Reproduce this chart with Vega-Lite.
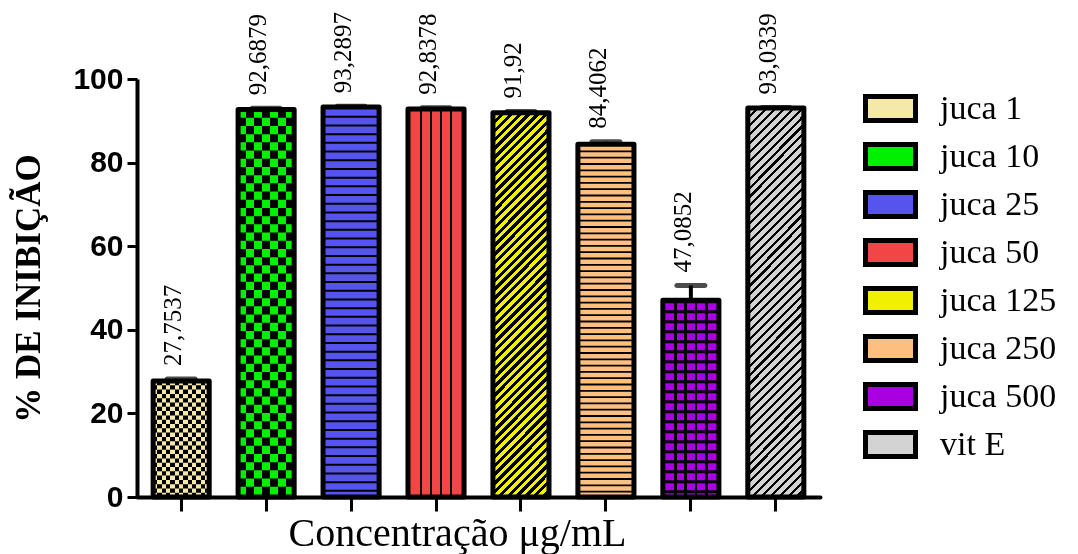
{
  "$schema": "https://vega.github.io/schema/vega-lite/v6.json",
  "width": 683,
  "height": 418,
  "autosize": "none",
  "padding": {"left": 137, "top": 79, "right": 258, "bottom": 57},
  "background": "white",
  "config": {"view": {"stroke": null}, "font": "Liberation Serif"},
  "data": {
    "values": [
      {"grupo": "juca 1", "media": 27.7537, "sup": 28.2, "rotulo": "27,7537"},
      {"grupo": "juca 10", "media": 92.6879, "sup": 93.0, "rotulo": "92,6879"},
      {"grupo": "juca 25", "media": 93.2897, "sup": 93.5, "rotulo": "93,2897"},
      {"grupo": "juca 50", "media": 92.8378, "sup": 93.1, "rotulo": "92,8378"},
      {"grupo": "juca 125", "media": 91.92, "sup": 92.2, "rotulo": "91,92"},
      {"grupo": "juca 250", "media": 84.4062, "sup": 85.0, "rotulo": "84,4062"},
      {"grupo": "juca 500", "media": 47.0852, "sup": 50.6, "rotulo": "47,0852"},
      {"grupo": "vit E", "media": 93.0339, "sup": 93.2, "rotulo": "93,0339"}
    ]
  },
  "encoding": {
    "x": {
      "field": "grupo",
      "type": "nominal",
      "sort": null,
      "scale": {"paddingInner": 0.34, "paddingOuter": 0.19},
      "axis": {
        "labels": false,
        "title": "Concentração μg/mL",
        "titleFont": "Liberation Serif",
        "titleFontSize": 40,
        "titleFontWeight": "normal",
        "titleColor": "black",
        "titleX": 320,
        "titleY": 48,
        "titleBaseline": "alphabetic",
        "domainColor": "black",
        "domainWidth": 4,
        "domainCap": "round",
        "tickColor": "black",
        "tickWidth": 3,
        "tickSize": 14
      }
    }
  },
  "layer": [
    {
      "mark": {"type": "rule", "color": "black", "strokeWidth": 4},
      "encoding": {
        "y": {"field": "media", "type": "quantitative"},
        "y2": {"field": "sup"}
      }
    },
    {
      "mark": {"type": "tick", "color": "black", "size": 33, "thickness": 5, "cornerRadius": 2.5, "orient": "horizontal"},
      "encoding": {"y": {"field": "sup", "type": "quantitative"}}
    },
    {
      "mark": {"type": "bar", "strokeWidth": 0},
      "encoding": {
        "y": {
          "field": "media",
          "type": "quantitative",
          "scale": {"domain": [0, 100], "nice": false},
          "axis": {
            "values": [0, 20, 40, 60, 80, 100],
            "grid": false,
            "title": "% DE INIBIÇÃO",
            "titleFont": "Liberation Serif",
            "titleFontSize": 35,
            "titleFontWeight": "bold",
            "titleColor": "black",
            "titlePadding": 26,
            "labelFont": "Liberation Sans",
            "labelFontSize": 30,
            "labelFontWeight": "bold",
            "labelColor": "black",
            "labelPadding": 4,
            "domainColor": "black",
            "domainWidth": 4,
            "tickColor": "black",
            "tickWidth": 3,
            "tickSize": 10
          }
        },
        "color": {
          "field": "grupo",
          "type": "nominal",
          "sort": null,
          "scale": {
            "domain": ["juca 1", "juca 10", "juca 25", "juca 50", "juca 125", "juca 250", "juca 500", "vit E"],
            "range": ["#F6E8A8", "#00F000", "#5555EE", "#F24545", "#F0F000", "#FFBF7F", "#A800E0", "#D3D3D3"]
          },
          "legend": {
            "title": null,
            "orient": "none",
            "legendX": 731,
            "legendY": 7,
            "padding": 0,
            "symbolType": "M-1.25,-0.6L1.25,-0.6L1.25,0.6L-1.25,0.6Z",
            "symbolSize": 1600,
            "symbolStrokeColor": "black",
            "symbolStrokeWidth": 5,
            "symbolOpacity": 1,
            "labelFont": "Liberation Serif",
            "labelFontSize": 34,
            "labelColor": "black",
            "labelOffset": 27,
            "rowPadding": 3,
            "labelLimit": 300
          }
        }
      }
    },
    {
      "transform": [{"filter": "datum.grupo === 'juca 1'"}],
      "mark": {"type": "rule", "color": "black", "strokeWidth": 56, "strokeCap": "butt", "strokeDash": [4.3, 4.3]},
      "encoding": {"y": {"field": "media", "type": "quantitative"}, "y2": {"datum": 0}}
    },
    {
      "transform": [{"filter": "datum.grupo === 'juca 1'"}],
      "mark": {"type": "bar", "strokeWidth": 0, "blend": "difference", "fill": {"gradient": "linear", "x1": 0, "y1": 0, "x2": 1, "y2": 0, "stops": [
        {"offset": 0, "color": "#F6E8A8"}, {"offset": 0.0769, "color": "#F6E8A8"}, {"offset": 0.0769, "color": "#000"}, {"offset": 0.1538, "color": "#000"},
        {"offset": 0.1538, "color": "#F6E8A8"}, {"offset": 0.2308, "color": "#F6E8A8"}, {"offset": 0.2308, "color": "#000"}, {"offset": 0.3077, "color": "#000"},
        {"offset": 0.3077, "color": "#F6E8A8"}, {"offset": 0.3846, "color": "#F6E8A8"}, {"offset": 0.3846, "color": "#000"}, {"offset": 0.4615, "color": "#000"},
        {"offset": 0.4615, "color": "#F6E8A8"}, {"offset": 0.5385, "color": "#F6E8A8"}, {"offset": 0.5385, "color": "#000"}, {"offset": 0.6154, "color": "#000"},
        {"offset": 0.6154, "color": "#F6E8A8"}, {"offset": 0.6923, "color": "#F6E8A8"}, {"offset": 0.6923, "color": "#000"}, {"offset": 0.7692, "color": "#000"},
        {"offset": 0.7692, "color": "#F6E8A8"}, {"offset": 0.8462, "color": "#F6E8A8"}, {"offset": 0.8462, "color": "#000"}, {"offset": 0.9231, "color": "#000"},
        {"offset": 0.9231, "color": "#F6E8A8"}, {"offset": 1, "color": "#F6E8A8"}
      ]}},
      "encoding": {"y": {"field": "media", "type": "quantitative"}}
    },
    {
      "transform": [{"filter": "datum.grupo === 'juca 10'"}],
      "mark": {"type": "rule", "color": "black", "strokeWidth": 56, "strokeCap": "butt", "strokeDash": [8.2, 8.2]},
      "encoding": {"y": {"field": "media", "type": "quantitative"}, "y2": {"datum": 0}}
    },
    {
      "transform": [{"filter": "datum.grupo === 'juca 10'"}],
      "mark": {"type": "bar", "strokeWidth": 0, "blend": "difference", "fill": {"gradient": "linear", "x1": 0, "y1": 0, "x2": 1, "y2": 0, "stops": [
        {"offset": 0, "color": "#00F000"}, {"offset": 0.1429, "color": "#00F000"}, {"offset": 0.1429, "color": "#000"}, {"offset": 0.2857, "color": "#000"},
        {"offset": 0.2857, "color": "#00F000"}, {"offset": 0.4286, "color": "#00F000"}, {"offset": 0.4286, "color": "#000"}, {"offset": 0.5714, "color": "#000"},
        {"offset": 0.5714, "color": "#00F000"}, {"offset": 0.7143, "color": "#00F000"}, {"offset": 0.7143, "color": "#000"}, {"offset": 0.8571, "color": "#000"},
        {"offset": 0.8571, "color": "#00F000"}, {"offset": 1, "color": "#00F000"}
      ]}},
      "encoding": {"y": {"field": "media", "type": "quantitative"}}
    },
    {
      "transform": [{"filter": "datum.grupo === 'juca 25'"}],
      "mark": {"type": "rule", "color": "black", "strokeWidth": 56, "strokeCap": "butt", "strokeDash": [2, 6.7]},
      "encoding": {"y": {"field": "media", "type": "quantitative"}, "y2": {"datum": 0}}
    },
    {
      "transform": [{"filter": "datum.grupo === 'juca 50'"}],
      "mark": {"type": "bar", "strokeWidth": 0, "fill": {"gradient": "linear", "x1": 0, "y1": 0, "x2": 1, "y2": 0, "stops": [
        {"offset": 0, "color": "transparent"}, {"offset": 0.208, "color": "transparent"}, {"offset": 0.208, "color": "#000"}, {"offset": 0.244, "color": "#000"}, {"offset": 0.244, "color": "transparent"},
        {"offset": 0.391, "color": "transparent"}, {"offset": 0.391, "color": "#000"}, {"offset": 0.427, "color": "#000"}, {"offset": 0.427, "color": "transparent"},
        {"offset": 0.573, "color": "transparent"}, {"offset": 0.573, "color": "#000"}, {"offset": 0.609, "color": "#000"}, {"offset": 0.609, "color": "transparent"},
        {"offset": 0.756, "color": "transparent"}, {"offset": 0.756, "color": "#000"}, {"offset": 0.792, "color": "#000"}, {"offset": 0.792, "color": "transparent"},
        {"offset": 1, "color": "transparent"}
      ]}},
      "encoding": {"y": {"field": "media", "type": "quantitative"}}
    },
    {
      "transform": [{"filter": "datum.grupo === 'juca 125'"}],
      "mark": {"type": "bar", "strokeWidth": 0, "fill": {"gradient": "linear", "x1": 0, "y1": 0, "x2": 0.1644, "y2": 1.1224, "stops": [
        {"offset": 0, "color": "#000"}, {"offset": 0.01, "color": "#000"}, {"offset": 0.01, "color": "transparent"}, {"offset": 0.02, "color": "transparent"},
        {"offset": 0.02, "color": "#000"}, {"offset": 0.03, "color": "#000"}, {"offset": 0.03, "color": "transparent"}, {"offset": 0.04, "color": "transparent"},
        {"offset": 0.04, "color": "#000"}, {"offset": 0.05, "color": "#000"}, {"offset": 0.05, "color": "transparent"}, {"offset": 0.06, "color": "transparent"},
        {"offset": 0.06, "color": "#000"}, {"offset": 0.07, "color": "#000"}, {"offset": 0.07, "color": "transparent"}, {"offset": 0.08, "color": "transparent"},
        {"offset": 0.08, "color": "#000"}, {"offset": 0.09, "color": "#000"}, {"offset": 0.09, "color": "transparent"}, {"offset": 0.10, "color": "transparent"},
        {"offset": 0.10, "color": "#000"}, {"offset": 0.11, "color": "#000"}, {"offset": 0.11, "color": "transparent"}, {"offset": 0.12, "color": "transparent"},
        {"offset": 0.12, "color": "#000"}, {"offset": 0.13, "color": "#000"}, {"offset": 0.13, "color": "transparent"}, {"offset": 0.14, "color": "transparent"},
        {"offset": 0.14, "color": "#000"}, {"offset": 0.15, "color": "#000"}, {"offset": 0.15, "color": "transparent"}, {"offset": 0.16, "color": "transparent"},
        {"offset": 0.16, "color": "#000"}, {"offset": 0.17, "color": "#000"}, {"offset": 0.17, "color": "transparent"}, {"offset": 0.18, "color": "transparent"},
        {"offset": 0.18, "color": "#000"}, {"offset": 0.19, "color": "#000"}, {"offset": 0.19, "color": "transparent"}, {"offset": 0.20, "color": "transparent"},
        {"offset": 0.20, "color": "#000"}, {"offset": 0.21, "color": "#000"}, {"offset": 0.21, "color": "transparent"}, {"offset": 0.22, "color": "transparent"},
        {"offset": 0.22, "color": "#000"}, {"offset": 0.23, "color": "#000"}, {"offset": 0.23, "color": "transparent"}, {"offset": 0.24, "color": "transparent"},
        {"offset": 0.24, "color": "#000"}, {"offset": 0.25, "color": "#000"}, {"offset": 0.25, "color": "transparent"}, {"offset": 0.26, "color": "transparent"},
        {"offset": 0.26, "color": "#000"}, {"offset": 0.27, "color": "#000"}, {"offset": 0.27, "color": "transparent"}, {"offset": 0.28, "color": "transparent"},
        {"offset": 0.28, "color": "#000"}, {"offset": 0.29, "color": "#000"}, {"offset": 0.29, "color": "transparent"}, {"offset": 0.30, "color": "transparent"},
        {"offset": 0.30, "color": "#000"}, {"offset": 0.31, "color": "#000"}, {"offset": 0.31, "color": "transparent"}, {"offset": 0.32, "color": "transparent"},
        {"offset": 0.32, "color": "#000"}, {"offset": 0.33, "color": "#000"}, {"offset": 0.33, "color": "transparent"}, {"offset": 0.34, "color": "transparent"},
        {"offset": 0.34, "color": "#000"}, {"offset": 0.35, "color": "#000"}, {"offset": 0.35, "color": "transparent"}, {"offset": 0.36, "color": "transparent"},
        {"offset": 0.36, "color": "#000"}, {"offset": 0.37, "color": "#000"}, {"offset": 0.37, "color": "transparent"}, {"offset": 0.38, "color": "transparent"},
        {"offset": 0.38, "color": "#000"}, {"offset": 0.39, "color": "#000"}, {"offset": 0.39, "color": "transparent"}, {"offset": 0.40, "color": "transparent"},
        {"offset": 0.40, "color": "#000"}, {"offset": 0.41, "color": "#000"}, {"offset": 0.41, "color": "transparent"}, {"offset": 0.42, "color": "transparent"},
        {"offset": 0.42, "color": "#000"}, {"offset": 0.43, "color": "#000"}, {"offset": 0.43, "color": "transparent"}, {"offset": 0.44, "color": "transparent"},
        {"offset": 0.44, "color": "#000"}, {"offset": 0.45, "color": "#000"}, {"offset": 0.45, "color": "transparent"}, {"offset": 0.46, "color": "transparent"},
        {"offset": 0.46, "color": "#000"}, {"offset": 0.47, "color": "#000"}, {"offset": 0.47, "color": "transparent"}, {"offset": 0.48, "color": "transparent"},
        {"offset": 0.48, "color": "#000"}, {"offset": 0.49, "color": "#000"}, {"offset": 0.49, "color": "transparent"}, {"offset": 0.50, "color": "transparent"},
        {"offset": 0.50, "color": "#000"}, {"offset": 0.51, "color": "#000"}, {"offset": 0.51, "color": "transparent"}, {"offset": 0.52, "color": "transparent"},
        {"offset": 0.52, "color": "#000"}, {"offset": 0.53, "color": "#000"}, {"offset": 0.53, "color": "transparent"}, {"offset": 0.54, "color": "transparent"},
        {"offset": 0.54, "color": "#000"}, {"offset": 0.55, "color": "#000"}, {"offset": 0.55, "color": "transparent"}, {"offset": 0.56, "color": "transparent"},
        {"offset": 0.56, "color": "#000"}, {"offset": 0.57, "color": "#000"}, {"offset": 0.57, "color": "transparent"}, {"offset": 0.58, "color": "transparent"},
        {"offset": 0.58, "color": "#000"}, {"offset": 0.59, "color": "#000"}, {"offset": 0.59, "color": "transparent"}, {"offset": 0.60, "color": "transparent"},
        {"offset": 0.60, "color": "#000"}, {"offset": 0.61, "color": "#000"}, {"offset": 0.61, "color": "transparent"}, {"offset": 0.62, "color": "transparent"},
        {"offset": 0.62, "color": "#000"}, {"offset": 0.63, "color": "#000"}, {"offset": 0.63, "color": "transparent"}, {"offset": 0.64, "color": "transparent"},
        {"offset": 0.64, "color": "#000"}, {"offset": 0.65, "color": "#000"}, {"offset": 0.65, "color": "transparent"}, {"offset": 0.66, "color": "transparent"},
        {"offset": 0.66, "color": "#000"}, {"offset": 0.67, "color": "#000"}, {"offset": 0.67, "color": "transparent"}, {"offset": 0.68, "color": "transparent"},
        {"offset": 0.68, "color": "#000"}, {"offset": 0.69, "color": "#000"}, {"offset": 0.69, "color": "transparent"}, {"offset": 0.70, "color": "transparent"},
        {"offset": 0.70, "color": "#000"}, {"offset": 0.71, "color": "#000"}, {"offset": 0.71, "color": "transparent"}, {"offset": 0.72, "color": "transparent"},
        {"offset": 0.72, "color": "#000"}, {"offset": 0.73, "color": "#000"}, {"offset": 0.73, "color": "transparent"}, {"offset": 0.74, "color": "transparent"},
        {"offset": 0.74, "color": "#000"}, {"offset": 0.75, "color": "#000"}, {"offset": 0.75, "color": "transparent"}, {"offset": 0.76, "color": "transparent"},
        {"offset": 0.76, "color": "#000"}, {"offset": 0.77, "color": "#000"}, {"offset": 0.77, "color": "transparent"}, {"offset": 0.78, "color": "transparent"},
        {"offset": 0.78, "color": "#000"}, {"offset": 0.79, "color": "#000"}, {"offset": 0.79, "color": "transparent"}, {"offset": 0.80, "color": "transparent"},
        {"offset": 0.80, "color": "#000"}, {"offset": 0.81, "color": "#000"}, {"offset": 0.81, "color": "transparent"}, {"offset": 0.82, "color": "transparent"},
        {"offset": 0.82, "color": "#000"}, {"offset": 0.83, "color": "#000"}, {"offset": 0.83, "color": "transparent"}, {"offset": 0.84, "color": "transparent"},
        {"offset": 0.84, "color": "#000"}, {"offset": 0.85, "color": "#000"}, {"offset": 0.85, "color": "transparent"}, {"offset": 0.86, "color": "transparent"},
        {"offset": 0.86, "color": "#000"}, {"offset": 0.87, "color": "#000"}, {"offset": 0.87, "color": "transparent"}, {"offset": 0.88, "color": "transparent"},
        {"offset": 0.88, "color": "#000"}, {"offset": 0.89, "color": "#000"}, {"offset": 0.89, "color": "transparent"}, {"offset": 0.90, "color": "transparent"},
        {"offset": 0.90, "color": "#000"}, {"offset": 0.91, "color": "#000"}, {"offset": 0.91, "color": "transparent"}, {"offset": 0.92, "color": "transparent"},
        {"offset": 0.92, "color": "#000"}, {"offset": 0.93, "color": "#000"}, {"offset": 0.93, "color": "transparent"}, {"offset": 0.94, "color": "transparent"},
        {"offset": 0.94, "color": "#000"}, {"offset": 0.95, "color": "#000"}, {"offset": 0.95, "color": "transparent"}, {"offset": 0.96, "color": "transparent"},
        {"offset": 0.96, "color": "#000"}, {"offset": 0.97, "color": "#000"}, {"offset": 0.97, "color": "transparent"}, {"offset": 0.98, "color": "transparent"},
        {"offset": 0.98, "color": "#000"}, {"offset": 0.99, "color": "#000"}, {"offset": 0.99, "color": "transparent"}, {"offset": 1, "color": "transparent"}
      ]}},
      "encoding": {"y": {"field": "media", "type": "quantitative"}}
    },
    {
      "transform": [{"filter": "datum.grupo === 'juca 250'"}],
      "mark": {"type": "rule", "color": "black", "strokeWidth": 56, "strokeCap": "butt", "strokeDash": [1.8, 4.5]},
      "encoding": {"y": {"field": "media", "type": "quantitative"}, "y2": {"datum": 0}}
    },
    {
      "transform": [{"filter": "datum.grupo === 'juca 500'"}],
      "mark": {"type": "rule", "color": "black", "strokeWidth": 56, "strokeCap": "butt", "strokeDash": [3, 7]},
      "encoding": {"y": {"field": "media", "type": "quantitative"}, "y2": {"datum": 0}}
    },
    {
      "transform": [{"filter": "datum.grupo === 'juca 500'"}],
      "mark": {"type": "bar", "strokeWidth": 0, "fill": {"gradient": "linear", "x1": 0, "y1": 0, "x2": 1, "y2": 0, "stops": [
        {"offset": 0, "color": "transparent"}, {"offset": 0.201, "color": "transparent"}, {"offset": 0.201, "color": "#000"}, {"offset": 0.251, "color": "#000"}, {"offset": 0.251, "color": "transparent"},
        {"offset": 0.384, "color": "transparent"}, {"offset": 0.384, "color": "#000"}, {"offset": 0.434, "color": "#000"}, {"offset": 0.434, "color": "transparent"},
        {"offset": 0.566, "color": "transparent"}, {"offset": 0.566, "color": "#000"}, {"offset": 0.616, "color": "#000"}, {"offset": 0.616, "color": "transparent"},
        {"offset": 0.749, "color": "transparent"}, {"offset": 0.749, "color": "#000"}, {"offset": 0.799, "color": "#000"}, {"offset": 0.799, "color": "transparent"},
        {"offset": 1, "color": "transparent"}
      ]}},
      "encoding": {"y": {"field": "media", "type": "quantitative"}}
    },
    {
      "transform": [{"filter": "datum.grupo === 'vit E'"}],
      "mark": {"type": "bar", "strokeWidth": 0, "fill": {"gradient": "linear", "x1": 0, "y1": 0, "x2": 0.1624, "y2": 1.1213, "stops": [
        {"offset": 0, "color": "#000"}, {"offset": 0.007, "color": "#000"}, {"offset": 0.007, "color": "transparent"}, {"offset": 0.02, "color": "transparent"},
        {"offset": 0.02, "color": "#000"}, {"offset": 0.027, "color": "#000"}, {"offset": 0.027, "color": "transparent"}, {"offset": 0.04, "color": "transparent"},
        {"offset": 0.04, "color": "#000"}, {"offset": 0.047, "color": "#000"}, {"offset": 0.047, "color": "transparent"}, {"offset": 0.06, "color": "transparent"},
        {"offset": 0.06, "color": "#000"}, {"offset": 0.067, "color": "#000"}, {"offset": 0.067, "color": "transparent"}, {"offset": 0.08, "color": "transparent"},
        {"offset": 0.08, "color": "#000"}, {"offset": 0.087, "color": "#000"}, {"offset": 0.087, "color": "transparent"}, {"offset": 0.10, "color": "transparent"},
        {"offset": 0.10, "color": "#000"}, {"offset": 0.107, "color": "#000"}, {"offset": 0.107, "color": "transparent"}, {"offset": 0.12, "color": "transparent"},
        {"offset": 0.12, "color": "#000"}, {"offset": 0.127, "color": "#000"}, {"offset": 0.127, "color": "transparent"}, {"offset": 0.14, "color": "transparent"},
        {"offset": 0.14, "color": "#000"}, {"offset": 0.147, "color": "#000"}, {"offset": 0.147, "color": "transparent"}, {"offset": 0.16, "color": "transparent"},
        {"offset": 0.16, "color": "#000"}, {"offset": 0.167, "color": "#000"}, {"offset": 0.167, "color": "transparent"}, {"offset": 0.18, "color": "transparent"},
        {"offset": 0.18, "color": "#000"}, {"offset": 0.187, "color": "#000"}, {"offset": 0.187, "color": "transparent"}, {"offset": 0.20, "color": "transparent"},
        {"offset": 0.20, "color": "#000"}, {"offset": 0.207, "color": "#000"}, {"offset": 0.207, "color": "transparent"}, {"offset": 0.22, "color": "transparent"},
        {"offset": 0.22, "color": "#000"}, {"offset": 0.227, "color": "#000"}, {"offset": 0.227, "color": "transparent"}, {"offset": 0.24, "color": "transparent"},
        {"offset": 0.24, "color": "#000"}, {"offset": 0.247, "color": "#000"}, {"offset": 0.247, "color": "transparent"}, {"offset": 0.26, "color": "transparent"},
        {"offset": 0.26, "color": "#000"}, {"offset": 0.267, "color": "#000"}, {"offset": 0.267, "color": "transparent"}, {"offset": 0.28, "color": "transparent"},
        {"offset": 0.28, "color": "#000"}, {"offset": 0.287, "color": "#000"}, {"offset": 0.287, "color": "transparent"}, {"offset": 0.30, "color": "transparent"},
        {"offset": 0.30, "color": "#000"}, {"offset": 0.307, "color": "#000"}, {"offset": 0.307, "color": "transparent"}, {"offset": 0.32, "color": "transparent"},
        {"offset": 0.32, "color": "#000"}, {"offset": 0.327, "color": "#000"}, {"offset": 0.327, "color": "transparent"}, {"offset": 0.34, "color": "transparent"},
        {"offset": 0.34, "color": "#000"}, {"offset": 0.347, "color": "#000"}, {"offset": 0.347, "color": "transparent"}, {"offset": 0.36, "color": "transparent"},
        {"offset": 0.36, "color": "#000"}, {"offset": 0.367, "color": "#000"}, {"offset": 0.367, "color": "transparent"}, {"offset": 0.38, "color": "transparent"},
        {"offset": 0.38, "color": "#000"}, {"offset": 0.387, "color": "#000"}, {"offset": 0.387, "color": "transparent"}, {"offset": 0.40, "color": "transparent"},
        {"offset": 0.40, "color": "#000"}, {"offset": 0.407, "color": "#000"}, {"offset": 0.407, "color": "transparent"}, {"offset": 0.42, "color": "transparent"},
        {"offset": 0.42, "color": "#000"}, {"offset": 0.427, "color": "#000"}, {"offset": 0.427, "color": "transparent"}, {"offset": 0.44, "color": "transparent"},
        {"offset": 0.44, "color": "#000"}, {"offset": 0.447, "color": "#000"}, {"offset": 0.447, "color": "transparent"}, {"offset": 0.46, "color": "transparent"},
        {"offset": 0.46, "color": "#000"}, {"offset": 0.467, "color": "#000"}, {"offset": 0.467, "color": "transparent"}, {"offset": 0.48, "color": "transparent"},
        {"offset": 0.48, "color": "#000"}, {"offset": 0.487, "color": "#000"}, {"offset": 0.487, "color": "transparent"}, {"offset": 0.50, "color": "transparent"},
        {"offset": 0.50, "color": "#000"}, {"offset": 0.507, "color": "#000"}, {"offset": 0.507, "color": "transparent"}, {"offset": 0.52, "color": "transparent"},
        {"offset": 0.52, "color": "#000"}, {"offset": 0.527, "color": "#000"}, {"offset": 0.527, "color": "transparent"}, {"offset": 0.54, "color": "transparent"},
        {"offset": 0.54, "color": "#000"}, {"offset": 0.547, "color": "#000"}, {"offset": 0.547, "color": "transparent"}, {"offset": 0.56, "color": "transparent"},
        {"offset": 0.56, "color": "#000"}, {"offset": 0.567, "color": "#000"}, {"offset": 0.567, "color": "transparent"}, {"offset": 0.58, "color": "transparent"},
        {"offset": 0.58, "color": "#000"}, {"offset": 0.587, "color": "#000"}, {"offset": 0.587, "color": "transparent"}, {"offset": 0.60, "color": "transparent"},
        {"offset": 0.60, "color": "#000"}, {"offset": 0.607, "color": "#000"}, {"offset": 0.607, "color": "transparent"}, {"offset": 0.62, "color": "transparent"},
        {"offset": 0.62, "color": "#000"}, {"offset": 0.627, "color": "#000"}, {"offset": 0.627, "color": "transparent"}, {"offset": 0.64, "color": "transparent"},
        {"offset": 0.64, "color": "#000"}, {"offset": 0.647, "color": "#000"}, {"offset": 0.647, "color": "transparent"}, {"offset": 0.66, "color": "transparent"},
        {"offset": 0.66, "color": "#000"}, {"offset": 0.667, "color": "#000"}, {"offset": 0.667, "color": "transparent"}, {"offset": 0.68, "color": "transparent"},
        {"offset": 0.68, "color": "#000"}, {"offset": 0.687, "color": "#000"}, {"offset": 0.687, "color": "transparent"}, {"offset": 0.70, "color": "transparent"},
        {"offset": 0.70, "color": "#000"}, {"offset": 0.707, "color": "#000"}, {"offset": 0.707, "color": "transparent"}, {"offset": 0.72, "color": "transparent"},
        {"offset": 0.72, "color": "#000"}, {"offset": 0.727, "color": "#000"}, {"offset": 0.727, "color": "transparent"}, {"offset": 0.74, "color": "transparent"},
        {"offset": 0.74, "color": "#000"}, {"offset": 0.747, "color": "#000"}, {"offset": 0.747, "color": "transparent"}, {"offset": 0.76, "color": "transparent"},
        {"offset": 0.76, "color": "#000"}, {"offset": 0.767, "color": "#000"}, {"offset": 0.767, "color": "transparent"}, {"offset": 0.78, "color": "transparent"},
        {"offset": 0.78, "color": "#000"}, {"offset": 0.787, "color": "#000"}, {"offset": 0.787, "color": "transparent"}, {"offset": 0.80, "color": "transparent"},
        {"offset": 0.80, "color": "#000"}, {"offset": 0.807, "color": "#000"}, {"offset": 0.807, "color": "transparent"}, {"offset": 0.82, "color": "transparent"},
        {"offset": 0.82, "color": "#000"}, {"offset": 0.827, "color": "#000"}, {"offset": 0.827, "color": "transparent"}, {"offset": 0.84, "color": "transparent"},
        {"offset": 0.84, "color": "#000"}, {"offset": 0.847, "color": "#000"}, {"offset": 0.847, "color": "transparent"}, {"offset": 0.86, "color": "transparent"},
        {"offset": 0.86, "color": "#000"}, {"offset": 0.867, "color": "#000"}, {"offset": 0.867, "color": "transparent"}, {"offset": 0.88, "color": "transparent"},
        {"offset": 0.88, "color": "#000"}, {"offset": 0.887, "color": "#000"}, {"offset": 0.887, "color": "transparent"}, {"offset": 0.90, "color": "transparent"},
        {"offset": 0.90, "color": "#000"}, {"offset": 0.907, "color": "#000"}, {"offset": 0.907, "color": "transparent"}, {"offset": 0.92, "color": "transparent"},
        {"offset": 0.92, "color": "#000"}, {"offset": 0.927, "color": "#000"}, {"offset": 0.927, "color": "transparent"}, {"offset": 0.94, "color": "transparent"},
        {"offset": 0.94, "color": "#000"}, {"offset": 0.947, "color": "#000"}, {"offset": 0.947, "color": "transparent"}, {"offset": 0.96, "color": "transparent"},
        {"offset": 0.96, "color": "#000"}, {"offset": 0.967, "color": "#000"}, {"offset": 0.967, "color": "transparent"}, {"offset": 0.98, "color": "transparent"},
        {"offset": 0.98, "color": "#000"}, {"offset": 0.987, "color": "#000"}, {"offset": 0.987, "color": "transparent"}, {"offset": 1, "color": "transparent"}
      ]}},
      "encoding": {"y": {"field": "media", "type": "quantitative"}}
    },
    {
      "mark": {"type": "bar", "fillOpacity": 0, "stroke": "black", "strokeWidth": 5, "strokeJoin": "round"},
      "encoding": {"y": {"field": "media", "type": "quantitative"}}
    },
    {
      "mark": {"type": "text", "angle": 270, "align": "left", "baseline": "alphabetic", "dx": 13, "font": "Liberation Serif", "fontSize": 25, "color": "black"},
      "encoding": {
        "y": {"field": "sup", "type": "quantitative"},
        "text": {"field": "rotulo"}
      }
    }
  ]
}
